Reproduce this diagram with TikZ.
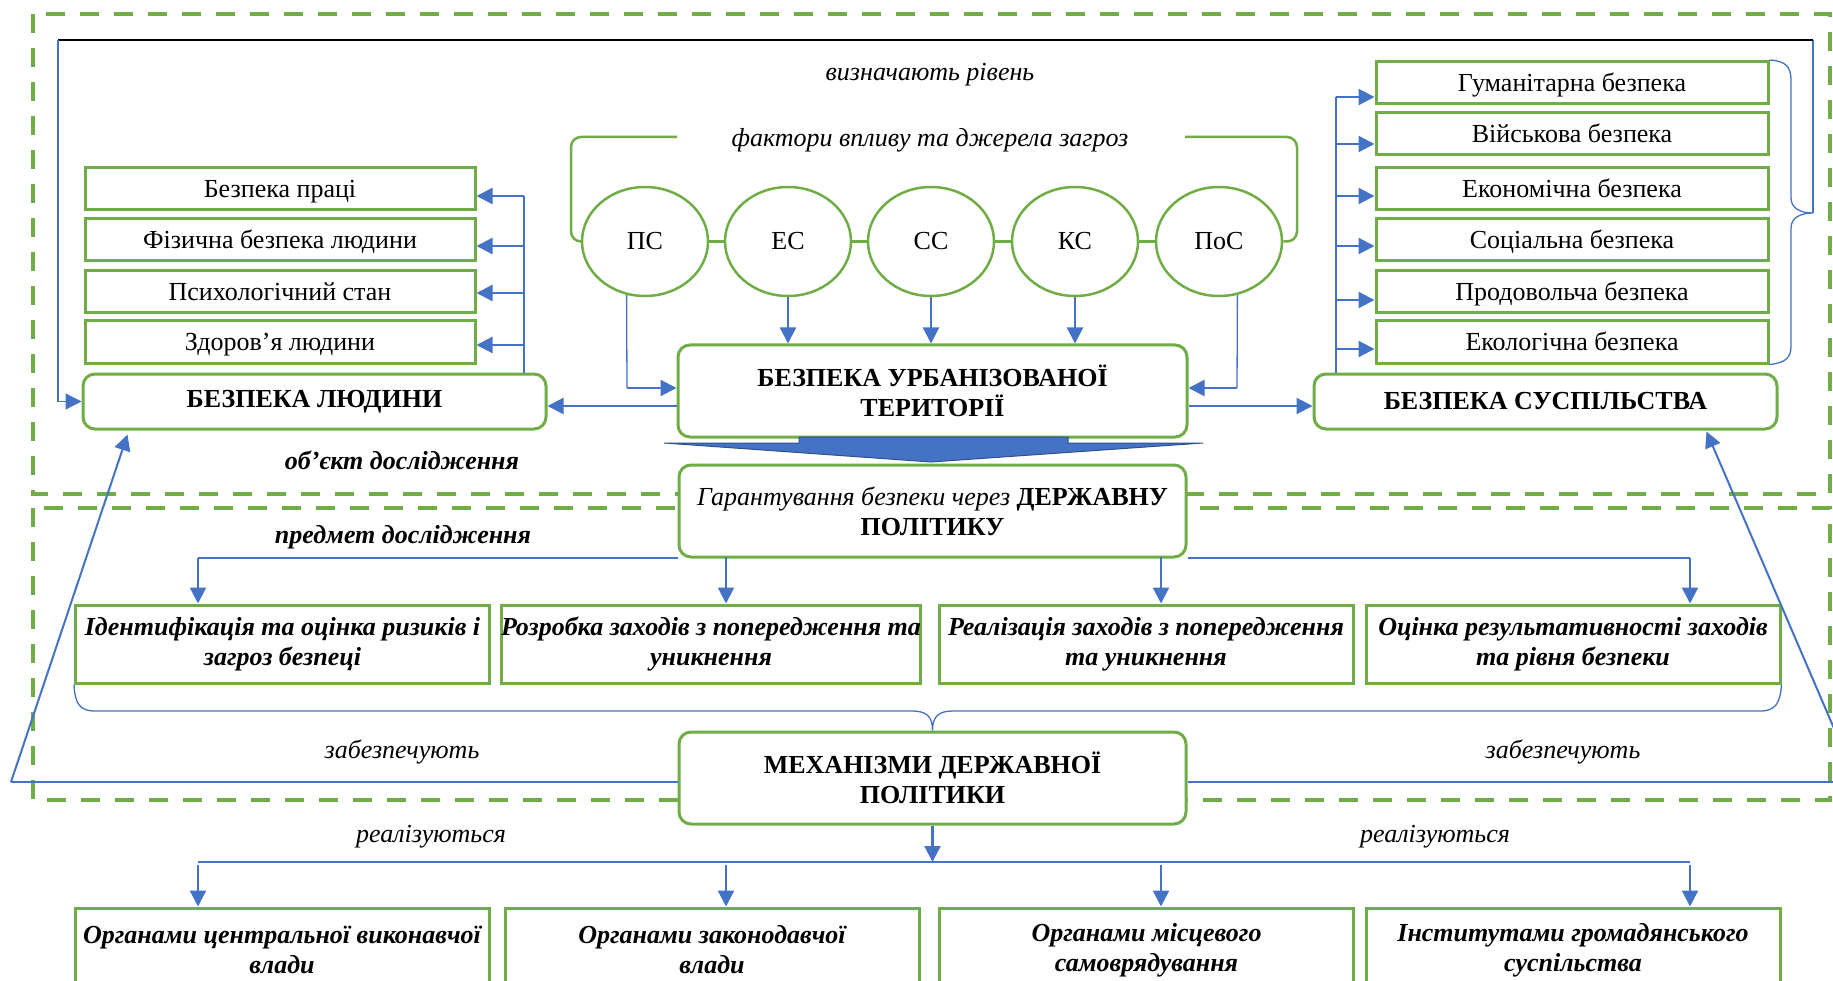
\documentclass[tikz,border=0pt]{standalone}
\usepackage{fontspec}
\setmainfont{Liberation Serif}
\usetikzlibrary{arrows.meta,calc,shapes.geometric}
\definecolor{gr}{HTML}{70AD47}
\definecolor{bl}{HTML}{4472C4}
\definecolor{bld}{HTML}{2F528F}
\newcommand\myfs{\fontsize{26}{30}\selectfont}
\begin{document}
\begin{tikzpicture}[x=1pt,y=-1pt,font=\myfs,
  sqbox/.style={draw=gr,line width=3pt,fill=white,inner sep=0pt,minimum height=42pt,minimum width=390pt,text height=18pt,text depth=0pt},
  rbox/.style={draw=gr,line width=3pt,fill=white,rounded corners=12pt,align=center,inner sep=0pt},
  rowbox/.style={draw=gr,line width=3pt,fill=white,minimum width=414pt,minimum height=78pt,align=center,inner sep=0pt,font=\myfs\bfseries\itshape},
  botbox/.style={draw=gr,line width=3pt,fill=white,minimum width=414pt,minimum height=84pt,align=center,inner sep=0pt,font=\myfs\bfseries\itshape},
  ell/.style={ellipse,draw=gr,line width=2.5pt,fill=white,minimum width=126pt,minimum height=109pt,inner sep=0pt},
  gdash/.style={draw=gr,line width=4pt,dash pattern=on 19pt off 15pt},
  gl/.style={draw=gr,line width=2.5pt},
  thinb/.style={draw=bl,line width=1.3pt},
  arr/.style={draw=bl,line width=2.2pt,-{Triangle[length=16pt,width=16pt]}},
  tarr/.style={draw=bl,line width=1.3pt,-{Triangle[length=16pt,width=16pt]}},
  lbl/.style={font=\myfs\itshape,inner sep=0pt},
  blbl/.style={font=\myfs\bfseries\itshape,inner sep=0pt}]
\useasboundingbox (0,0) rectangle (1833,981);
\clip (0,0) rectangle (1833,981);
\fill[white] (0,0) rectangle (1833,981);

% dashed frames
\draw[gdash] (33,14) rectangle (1830,494);
\draw[gdash] (33,508) rectangle (1830,800);

% left list
\node[sqbox] (lb1) at (280,188.5) {Безпека праці};
\node[sqbox] (lb2) at (280,240) {Фізична безпека людини};
\node[sqbox] (lb3) at (280,292) {Психологічний стан};
\node[sqbox] (lb4) at (280,342) {Здоров’я людини};

% right list
\node[sqbox,minimum width=392pt] (rb1) at (1572,82.5) {Гуманітарна безпека};
\node[sqbox,minimum width=392pt] (rb2) at (1572,134) {Військова безпека};
\node[sqbox,minimum width=392pt] (rb3) at (1572,188.5) {Економічна безпека};
\node[sqbox,minimum width=392pt] (rb4) at (1572,240) {Соціальна безпека};
\node[sqbox,minimum width=392pt] (rb5) at (1572,292) {Продовольча безпека};
\node[sqbox,minimum width=392pt] (rb6) at (1572,342) {Екологічна безпека};

% main rounded boxes
\node[rbox,minimum width=463pt,minimum height=55pt] (hl) at (314.5,401.5) {\textbf{БЕЗПЕКА ЛЮДИНИ}};
\node[rbox,minimum width=509pt,minimum height=92pt] (ut) at (932.5,391) {\textbf{БЕЗПЕКА УРБАНІЗОВАНОЇ}\\\textbf{ТЕРИТОРІЇ}};
\node[rbox,minimum width=463pt,minimum height=55pt] (hs) at (1545.5,401.5) {\textbf{БЕЗПЕКА СУСПІЛЬСТВА}};
\node[rbox,minimum width=507pt,minimum height=92pt] (gp) at (932.5,511) {\textit{Гарантування безпеки через} \textbf{ДЕРЖАВНУ}\\\textbf{ПОЛІТИКУ}};
\node[rbox,minimum width=507pt,minimum height=92pt] (mp) at (932.5,778) {\textbf{МЕХАНІЗМИ ДЕРЖАВНОЇ}\\\textbf{ПОЛІТИКИ}};

% circles
\node[ell] (c1) at (645,241.5) {ПС};
\node[ell] (c2) at (788,241.5) {ЕС};
\node[ell] (c3) at (931,241.5) {СС};
\node[ell] (c4) at (1075,241.5) {КС};
\node[ell] (c5) at (1219,241.5) {ПоС};
\draw[gl] (c1.east) -- (c2.west);
\draw[gl] (c2.east) -- (c3.west);
\draw[gl] (c3.east) -- (c4.west);
\draw[gl] (c4.east) -- (c5.west);

% labels
\node[lbl] (t1) at (930,75) {визначають рівень};
\node[lbl] (t2) at (930,140) {фактори впливу та джерела загроз};
\node[blbl] (t3) at (402,460) {об’єкт дослідження};
\node[blbl] (t4) at (403,537) {предмет дослідження};
\node[lbl] (t5) at (402,752) {забезпечують};
\node[lbl] (t6) at (1563,752) {забезпечують};
\node[lbl] (t7) at (431,837) {реалізуються};
\node[lbl] (t8) at (1435,837) {реалізуються};

% green bracket round the circles
\draw[gl,rounded corners=10pt] (c1.west) -- (571,241.5) -- (571,137) -- (677,137);
\draw[gl,rounded corners=10pt] (1185,137) -- (1297,137) -- (1297,241.5) -- (c5.east);

% row of tasks
\node[rowbox] (r1) at (282.5,644) {Ідентифікація та оцінка ризиків і\\загроз безпеці};
\node[rowbox] (r2) at (711,644) {Розробка заходів з попередження та\\уникнення};
\node[rowbox] (r3) at (1146,644) {Реалізація заходів з попередження\\та уникнення};
\node[rowbox] (r4) at (1573,644) {Оцінка результативності заходів\\та рівня безпеки};

% bottom row
\node[botbox] (b1) at (282,950) {Органами центральної виконавчої\\влади};
\node[botbox] (b2) at (712,950) {Органами законодавчої\\влади};
\node[botbox] (b3) at (1146.5,950) {Органами місцевого\\самоврядування};
\node[botbox] (b4) at (1573,950) {Інститутами громадянського\\суспільства};

% right brace and the "визначають рівень" loop
\coordinate (bt) at (1813,213);
\coordinate (tr) at (1813,40);
\coordinate (tl) at (58,40);
\draw[thinb] (rb1.north east) .. controls (1785,61) and (1791,66) .. (1791,80) -- (1791,198) .. controls (1791,208) and (1800,213) .. (bt) .. controls (1800,213) and (1791,218) .. (1791,228) -- (1791,346) .. controls (1791,358) and (1785,363) .. (rb6.south east);
\draw[thinb] (bt) -- (tr);
\draw[black,line width=1.2pt] (tr) -- (tl);
\draw[tarr] (tl) -- (58,401.5) -- (hl.west);

% left list connectors
\draw[thinb] (hl.north -| 524,0) -- (524,196);
\draw[arr] (524,196) -- (lb1.east |- 0,196);
\draw[arr] (524,246) -- (lb2.east |- 0,246);
\draw[arr] (524,293) -- (lb3.east |- 0,293);
\draw[arr] (524,345) -- (lb4.east |- 0,345);

% right list connectors
\draw[thinb] (hs.north -| 1336,0) -- (1336,97);
\draw[arr] (1336,97) -- (rb1.west |- 0,97);
\draw[arr] (1336,144) -- (rb2.west |- 0,144);
\draw[arr] (1336,196) -- (rb3.west |- 0,196);
\draw[arr] (1336,246) -- (rb4.west |- 0,246);
\draw[arr] (1336,300) -- (rb5.west |- 0,300);
\draw[arr] (1336,349) -- (rb6.west |- 0,349);

% circles to main box
\draw[thinb] (c1.251) -- (627,388);
\draw[arr] (627,388) -- (ut.west |- 0,388);
\draw[thinb] (c5.289) -- (1237,388);
\draw[arr] (1237,388) -- (ut.east |- 0,388);
\draw[arr] (c2.south) -- (c2.south |- ut.north);
\draw[arr] (c3.south) -- (c3.south |- ut.north);
\draw[arr] (c4.south) -- (c4.south |- ut.north);

% main box to the two sides
\draw[arr] (ut.west |- 0,406) -- (hl.east |- 0,406);
\draw[arr] (ut.east |- 0,406) -- (hs.west |- 0,406);

% block arrow
\filldraw[fill=bl,draw=bld,line width=1pt] (799,437) -- (1068,437) -- (1068,443) -- (1203,443) -- (931,462) -- (664,443) -- (799,443) -- cycle;

% state policy to tasks
\draw[thinb] (198,558) -- (gp.south west |- 0,558);
\draw[thinb] (gp.south east |- 0,558) -- (1690,558);
\draw[arr] (198,558) -- (r1.north -| 198,0);
\draw[arr] (726,557) -- (r2.north -| 726,0);
\draw[arr] (1161,557) -- (r3.north -| 1161,0);
\draw[arr] (1690,558) -- (r4.north -| 1690,0);

% brace under tasks
\draw[thinb] (r1.south west) .. controls (75,703) and (79,711) .. (95,711) -- (912,711) .. controls (926,711) and (932.5,716) .. (mp.north) .. controls (932.5,716) and (939,711) .. (953,711) -- (1760,711) .. controls (1776,711) and (1780,703) .. (r4.south east);

% mechanisms to the two sides
\draw[thinb] (mp.west |- 0,782) -- (11,782);
\draw[line width=2pt,draw=bl,-{Triangle[length=16pt,width=16pt]}] (11,782) -- ($(hl.south west)+(46,4)$);
\draw[thinb] (mp.east |- 0,782) -- (1857,782);
\draw[line width=2pt,draw=bl,-{Triangle[length=16pt,width=16pt]}] (1857,782) -- ($(hs.south west)+(394,1)$);

% mechanisms to bodies
\draw[arr] (mp.south) -- (mp.south |- 0,862);
\draw[thinb] (198,862) -- (1690,862);
\draw[arr] (198,865) -- (b1.north -| 198,0);
\draw[arr] (726,865) -- (b2.north -| 726,0);
\draw[arr] (1161,865) -- (b3.north -| 1161,0);
\draw[arr] (1690,865) -- (b4.north -| 1690,0);
\end{tikzpicture}
\end{document}
